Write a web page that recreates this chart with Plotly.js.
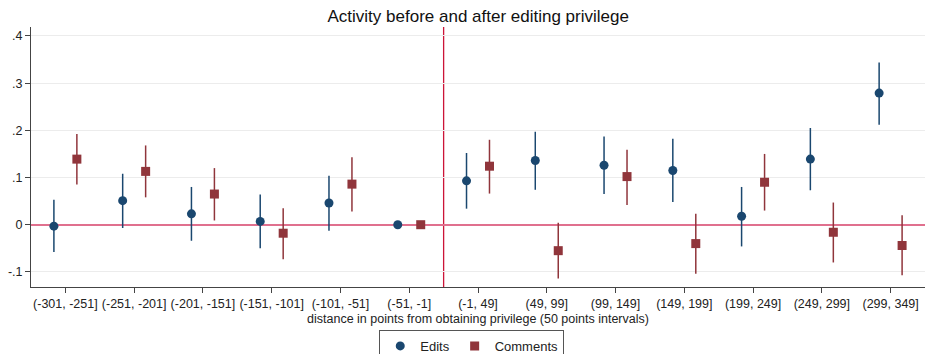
<!DOCTYPE html>
<html>
<head>
<meta charset="utf-8">
<script src="https://cdn.plot.ly/plotly-3.0.1.min.js"></script>
<style>html,body{margin:0;padding:0;background:#fff;}#chart{width:925px;height:354px;}</style>
</head>
<body>
<div id="chart"></div>
<script>
const categories = ["(-301, -251]","(-251, -201]","(-201, -151]","(-151, -101]","(-101, -51]","(-51, -1]","(-1, 49]","(49, 99]","(99, 149]","(149, 199]","(199, 249]","(249, 299]","(299, 349]"];
const editsEst  = [-0.003, 0.051, 0.023, 0.007, 0.046, 0.000, 0.093, 0.136, 0.126, 0.115, 0.018, 0.139, 0.279];
const editsHigh = [ 0.053, 0.108, 0.080, 0.064, 0.104, 0.000, 0.152, 0.197, 0.187, 0.182, 0.080, 0.205, 0.344];
const editsLow  = [-0.058,-0.007,-0.034,-0.050,-0.013, 0.000, 0.034, 0.074, 0.065, 0.048,-0.046, 0.073, 0.212];
const commEst   = [ 0.139, 0.113, 0.065,-0.018, 0.086, 0.000, 0.124,-0.055, 0.102,-0.040, 0.090,-0.016,-0.044];
const commHigh  = [ 0.192, 0.168, 0.120, 0.035, 0.143, 0.000, 0.180, 0.004, 0.159, 0.023, 0.150, 0.047, 0.020];
const commLow   = [ 0.085, 0.058, 0.009,-0.073, 0.028, 0.000, 0.066,-0.114, 0.042,-0.104, 0.030,-0.080,-0.107];
const yTickVals = [-0.1, 0, 0.1, 0.2, 0.3, 0.4];
const yTickText = ["-.1", "0", ".1", ".2", ".3", ".4"];
const cutoff = 5.5;

const idx = categories.map((c, i) => i);
const off = 0.167;
const navy = "#1a476f", maroon = "#90353b";

const traces = [
  {
    type: "scatter", mode: "markers", name: "Edits",
    x: idx.map(i => i - off), y: editsEst,
    marker: {symbol: "circle", size: 9, color: navy},
    error_y: {type: "data", symmetric: false,
      array: editsHigh.map((h, i) => h - editsEst[i]),
      arrayminus: editsLow.map((l, i) => editsEst[i] - l),
      width: 0, thickness: 1.5, color: navy}
  },
  {
    type: "scatter", mode: "markers", name: "Comments",
    x: idx.map(i => i + off), y: commEst,
    marker: {symbol: "square", size: 9, color: maroon},
    error_y: {type: "data", symmetric: false,
      array: commHigh.map((h, i) => h - commEst[i]),
      arrayminus: commLow.map((l, i) => commEst[i] - l),
      width: 0, thickness: 1.5, color: maroon}
  }
];

const layout = {
  width: 925, height: 354,
  margin: {l: 31, r: 0, t: 27, b: 67},
  paper_bgcolor: "#fff", plot_bgcolor: "#fff",
  font: {family: "Liberation Sans, Arial, sans-serif", color: "#222", size: 12},
  title: {text: "Activity before and after editing privilege", x: 0.517, xanchor: "center", y: 0.955, yanchor: "middle",
    font: {size: 17, color: "#111"}},
  showlegend: true,
  legend: {orientation: "h", xref: "container", yref: "container", x: 0.510, xanchor: "center", y: 0.068, yanchor: "top",
    bordercolor: "#555", borderwidth: 1, font: {size: 13}, itemwidth: 20},
  xaxis: {
    range: [-0.5, 12.5], tickvals: idx, ticktext: categories,
    showgrid: false, zeroline: false, showline: true, linecolor: "#444", linewidth: 1,
    ticks: "outside", ticklen: 5, tickcolor: "#444",
    title: {text: "distance in points from obtaining privilege (50 points intervals)", font: {size: 12.5}, standoff: 4},
    tickfont: {size: 12.5}
  },
  yaxis: {
    range: [-0.132, 0.419], tickvals: yTickVals, ticktext: yTickText,
    showgrid: true, gridcolor: "#ececec", gridwidth: 1,
    zeroline: true, zerolinecolor: "#e0708e", zerolinewidth: 2,
    showline: true, linecolor: "#444", linewidth: 1,
    ticks: "outside", ticklen: 5, tickcolor: "#444", tickfont: {size: 12.5}
  },
  shapes: [
    {type: "line", xref: "x", x0: cutoff, x1: cutoff, yref: "paper", y0: 0, y1: 1,
      line: {color: "#cc1438", width: 1.3}, layer: "below"}
  ]
};

Plotly.newPlot("chart", traces, layout, {displayModeBar: false, staticPlot: true});
</script>
</body>
</html>
